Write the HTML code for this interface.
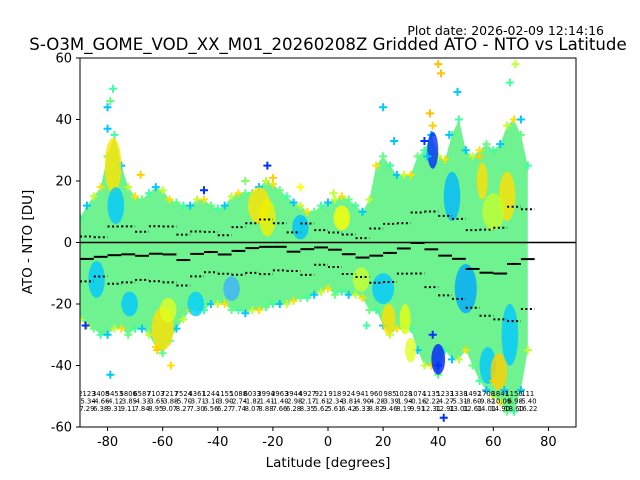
<!DOCTYPE html>
<html><head><meta charset="utf-8">
<style>
html,body{margin:0;padding:0;background:#fff;}
svg{display:block;font-family:"DejaVu Sans","Liberation Sans",sans-serif;}
</style></head>
<body>
<svg id="chart" width="640" height="480" viewBox="0 0 640 480">
<text x="604" y="35" font-size="12.5" text-anchor="end">Plot date: 2026-02-09 12:14:16</text>
<text x="328" y="50" font-size="16.6" text-anchor="middle">S-O3M_GOME_VOD_XX_M01_20260208Z Gridded ATO - NTO vs Latitude</text>
<text x="328" y="467" font-size="13.5" text-anchor="middle">Latitude [degrees]</text>
<text x="32" y="242" font-size="13.5" text-anchor="middle" transform="rotate(-90 32 242)">ATO - NTO [DU]</text>
<defs><clipPath id="pc"><rect x="80" y="58" width="496" height="369"/></clipPath></defs>
<g id="plot" clip-path="url(#pc)"></g>
<g id="axes"></g>
</svg>
<script>
// ---- data ----
const envLat = [-90,-87.5,-85,-82.5,-80,-77.5,-75,-72.5,-70,-67.5,-65,-62.5,-60,-57.5,-55,-52.5,-50,-47.5,-45,-42.5,-40,-37.5,-35,-32.5,-30,-27.5,-25,-22.5,-20,-17.5,-15,-12.5,-10,-7.5,-5,-2.5,0,2.5,5,7.5,10,12.5,15,17.5,20,22.5,25,27.5,30,32.5,35,37.5,40,42.5,45,47.5,50,52.5,55,57.5,60,62.5,65,67.5,70,72.5];
const envHigh = [8,12,15,18,28,35,25,18,15,14,16,18,17,14,13,12,12,14,14,12,11,12,15,16,16,16,18,20,19,17,15,13,12,10,10,12,13,14,15,14,12,10,14,25,28,25,22,22,22,28,30,35,28,27,35,40,30,28,30,32,30,32,38,40,35,25];
const envLow = [-25,-27,-28,-30,-30,-28,-28,-30,-28,-28,-30,-34,-36,-32,-28,-25,-22,-22,-22,-20,-20,-20,-22,-22,-23,-22,-22,-21,-20,-20,-20,-19,-18,-18,-17,-16,-15,-17,-16,-17,-17,-18,-22,-22,-27,-30,-28,-28,-28,-35,-40,-40,-43,-35,-38,-38,-35,-40,-45,-48,-50,-52,-55,-55,-48,-35];
const edgeCol = ["#40ffa0","#00c8ff","#c0ff30","#ffe000","#60ff80"];
// colored sub-populations: lat center, value center, lat half-width, value half-height, colour
const blobLat = [-78,-77,-60,-58,-72,-25,-22,-48,-35,-10,12,20,22,28,38,40,45,50,58,62,65,60,66,56,-84,5,30];
const blobVal = [25,12,-28,-22,-20,12,8,-20,-15,5,-12,-15,-25,-25,30,-38,15,-15,-40,-42,15,10,-30,20,-12,8,-35];
const blobW = [3,3,4,3,3,4,3,3,3,3,3,4,2.5,2,2,2.5,3,4,3,3,3,4,3,2,3,3,2];
const blobH = [9,6,7,4,4,6,6,4,4,4,4,5,5,5,6,5,8,8,6,6,8,6,10,6,6,4,4];
const blobCol = ["#ffe500","#00c8ff","#ffe000","#e0ff20","#00c8ff","#ffe500","#f0f000","#00d0ff","#40b0ff","#00c0ff","#c8ff30","#00c8ff","#ffe000","#e8ff10","#0030ff","#0020ff","#00b8ff","#00a8ff","#00c8ff","#ffd000","#ffe000","#c0ff30","#00c8ff","#ffe000","#00c8ff","#ffff00","#e0ff20"];
// outliers
const outLat = [-78,-79,-80,-80,-68,-62,-57,-45,-30,-22,-20,-10,2,14,20,24,35,36,37,38,40,41,42,44,47,60,64,66,68,70,-88,-79,38,40,55];
const outVal = [50,46,44,37,22,-35,-40,17,20,25,21,18,16,-27,44,33,33,28,42,38,58,55,-57,35,49,-45,-48,52,58,40,-27,-43,-30,-40,28];
const outCol = ["#40ffa0","#60ff80","#00c8ff","#00c8ff","#ffd000","#ffd000","#ffe000","#0030ff","#80ff60","#0030ff","#ffd000","#ffff00","#c0ff30","#40ffa0","#00c8ff","#00c8ff","#0030ff","#00c8ff","#ffc000","#ffd000","#ffc000","#ffc000","#0030ff","#00c8ff","#00c8ff","#ffd000","#00c8ff","#40ffa0","#c0ff30","#00c8ff","#0030ff","#00c8ff","#0030ff","#0030ff","#ffd000"];
// per-bin statistics (5 degree bins starting at -90)
const binStart = [-90,-85,-80,-75,-70,-65,-60,-55,-50,-45,-40,-35,-30,-25,-20,-15,-10,-5,0,5,10,15,20,25,30,35,40,45,50,55,60,65,70];
const binCount = ["2123","3408","5453","5806","6587","7103","7217","7524","4361","1244","1155","1088","6033","3994","3963","3944","4927","921","918","924","941","960","985","1028","1074","1135","1233","1338","1492","1708","1841","1150","111"];
const binMean = [-5.34,-4.66,-4.12,-3.85,-4.33,-3.65,-3.88,-5.70,-3.71,-3.10,-3.90,-2.74,-1.82,-1.41,-1.40,-2.98,-2.17,-1.61,-2.34,-3.81,-4.90,-4.28,-3.39,-1.94,-0.16,-2.22,-4.27,-5.31,-8.60,-9.82,-10.09,-6.98,-5.40];
const binStd = [7.29,6.38,9.31,9.11,7.84,8.95,9.07,8.27,7.30,6.56,6.27,7.74,8.07,8.88,7.66,6.28,8.35,5.62,5.61,6.42,6.33,8.82,9.46,8.19,9.91,12.31,12.91,13.01,12.61,14.01,14.90,18.60,16.22];
const xTicks = [-80,-60,-40,-20,0,20,40,60,80];
const yTicks = [-60,-40,-20,0,20,40,60];

// ---- axis functions ----
const X = lat => 80 + (lat + 90) * 496 / 180;
const Y = v => 242.5 - v * 369 / 120;
const NS = "http://www.w3.org/2000/svg";
function mk(tag, attrs, parent){const e=document.createElementNS(NS,tag);for(const k in attrs)e.setAttribute(k,attrs[k]);parent.appendChild(e);return e;}
const plot = document.getElementById('plot');
const axes = document.getElementById('axes');
function cross(x,y,c,name){
  const p = mk('path',{d:`M${x-4},${y}H${x+4}M${x},${y-4}V${y+4}`,stroke:c,'stroke-width':2},plot);
  
  
}

// envelope of dense scatter
let pts = envLat.map((l,i)=>X(l)+','+Y(envHigh[i]));
for(let i=envLat.length-1;i>=0;i--) pts.push(X(envLat[i])+','+Y(envLow[i]));
const env = mk('polygon',{points:pts.join(' '),fill:'#6ff290'},plot);



// edge crosses for texture
envLat.forEach((l,i)=>{
  cross(X(l), Y(envHigh[i]), edgeCol[i%5], 'scatter-point');
  cross(X(l), Y(envLow[i]), edgeCol[(i+2)%5], 'scatter-point');
});

// blobs
blobLat.forEach((l,i)=>{
  const e = mk('ellipse',{cx:X(l),cy:Y(blobVal[i]),rx:blobW[i]*496/180,ry:blobH[i]*369/120,fill:blobCol[i],opacity:0.8},plot);
  
  
});

// outlier crosses
outLat.forEach((l,i)=>{ cross(X(l), Y(outVal[i]), outCol[i], 'scatter-point'); });

// zero line
const z = mk('line',{x1:80,x2:576,y1:Y(0),y2:Y(0),stroke:'#000','stroke-width':1.5},plot);



// bin stats
binStart.forEach((b,i)=>{
  const x1=X(b), x2=X(b+5), cx=X(b+2.5);
  const m = mk('line',{x1:x1,x2:x2,y1:Y(binMean[i]),y2:Y(binMean[i]),stroke:'#000','stroke-width':2},plot);
  
  
  [binMean[i]+binStd[i], binMean[i]-binStd[i]].forEach(v=>{
    const d = mk('line',{x1:x1,x2:x2,y1:Y(v),y2:Y(v),stroke:'#000','stroke-width':2,'stroke-dasharray':'2 2.5'},plot);
    
    
  });
  [binCount[i], binMean[i].toFixed(2), binStd[i].toFixed(2)].forEach((t,r)=>{
    const tx = mk('text',{x:cx,y:396+r*7.5,'font-size':6.8,'text-anchor':'middle',fill:'#000'},plot);
    tx.textContent=t;
    
    
  });
});

// frame and ticks
const fr = mk('rect',{x:80,y:58,width:496,height:369,fill:'none',stroke:'#000','stroke-width':1},axes);


xTicks.forEach(t=>{
  const x=X(t);
  const l = mk('line',{x1:x,x2:x,y1:427,y2:431,stroke:'#000'},axes);
  
  
  const tx = mk('text',{x:x,y:446,'font-size':13,'text-anchor':'middle'},axes);
  tx.textContent=t;
  
  
});
yTicks.forEach(t=>{
  const y=Y(t);
  const l = mk('line',{x1:76,x2:80,y1:y,y2:y,stroke:'#000'},axes);
  
  
  const tx = mk('text',{x:72,y:y+4.5,'font-size':13,'text-anchor':'end'},axes);
  tx.textContent=t;
  
  
});
</script>
</body></html>
